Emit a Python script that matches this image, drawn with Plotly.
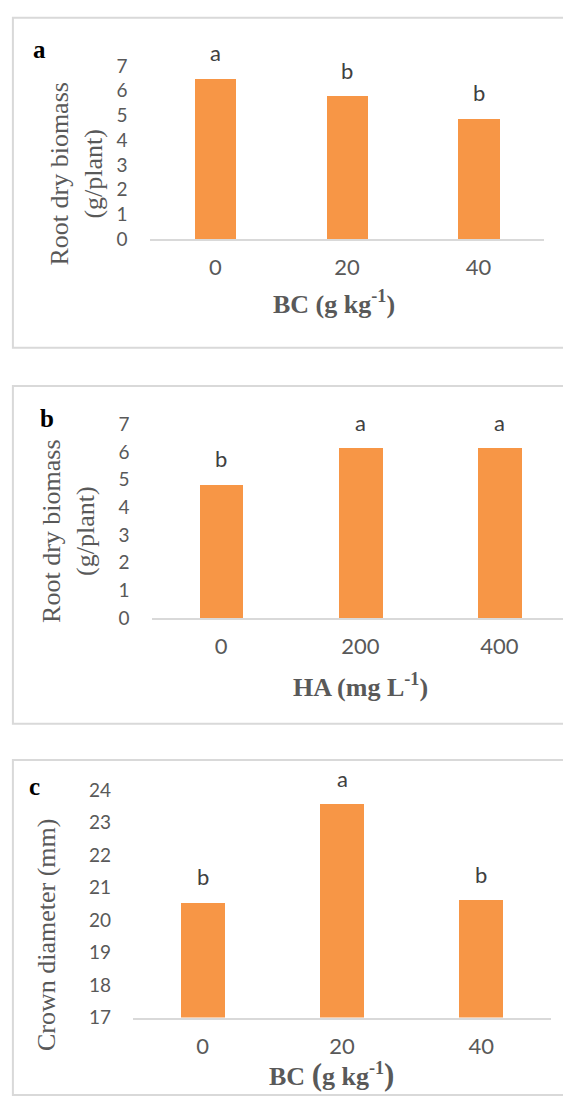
import plotly.graph_objects as go

# ---------------- data ----------------
cats_a = ["0", "20", "40"]
vals_a = [6.48, 5.77, 4.86]
sig_a = ["a", "b", "b"]

cats_b = ["0", "200", "400"]
vals_b = [4.81, 6.12, 6.13]
sig_b = ["b", "a", "a"]

cats_c = ["0", "20", "40"]
vals_c = [20.53, 23.56, 20.60]
sig_c = ["b", "a", "b"]

W, H = 563, 1101
def fx(x):
    return x / W
def fy(y):
    return 1 - y / H

BAR = "#F79646"
GRAY = "#595959"
LINE = "#D9D9D9"
SANS = "Lato, 'Open Sans', sans-serif"
SERIF = "'Liberation Serif', 'Times New Roman', serif"

fig = go.Figure()

panels = [
    dict(cats=cats_a, vals=vals_a, sig=sig_a, x0=149.5, x1=544.3, ytop=55, ybot=232,
         yr=[0, 7], dt=1, xa="x", ya="y", width=0.314),
    dict(cats=cats_b, vals=vals_b, sig=sig_b, x0=151.6, x1=569.0, ytop=421, ybot=619,
         yr=[0, 7], dt=1, xa="x2", ya="y2", width=0.315),
    dict(cats=cats_c, vals=vals_c, sig=sig_c, x0=133.0, x1=551.0, ytop=795, ybot=1027,
         yr=[17, 24], dt=1, xa="x3", ya="y3", width=0.317),
]

for i, p in enumerate(panels):
    fig.add_trace(go.Bar(x=p["cats"], y=p["vals"], marker=dict(color=BAR, line=dict(width=0)),
                         width=p["width"], xaxis=p["xa"], yaxis=p["ya"], showlegend=False,
                         hoverinfo="skip"))
    ncat = len(p["cats"])
    step = (p["x1"] - p["x0"]) / ncat
    right = min(p["x1"], W)
    rng_hi = -0.5 + (right - p["x0"]) / step
    suffix = "" if i == 0 else str(i + 1)
    fig.update_layout(**{
        "xaxis" + suffix: dict(domain=[fx(p["x0"]), fx(right)], type="category",
                               range=[-0.5, rng_hi], anchor=p["ya"], showline=True,
                               linecolor=LINE, linewidth=1.6, ticks="", showgrid=False,
                               zeroline=False, tickfont=dict(family=SANS, size=22, color=GRAY),
                               ticklabelstandoff=8, fixedrange=True),
        "yaxis" + suffix: dict(domain=[fy(p["ybot"]), fy(p["ytop"])], range=p["yr"],
                               dtick=p["dt"], anchor=p["xa"], showline=False, showgrid=False,
                               zeroline=False, ticks="",
                               tickfont=dict(family=SANS, size=19, color=GRAY),
                               ticklabelstandoff=21, fixedrange=True),
    })
    for k, (v, s) in enumerate(zip(p["vals"], p["sig"])):
        fig.add_annotation(x=k, y=v, xref=p["xa"], yref=p["ya"], text=s, showarrow=False,
                           yanchor="middle", xanchor="center", yshift=26,
                           font=dict(family=SANS, size=22, color="#404040"))

# panel borders
for (x0, y0, x1, y1) in [(12.9, 6, W + 5, 343), (12.9, 382, W + 5, 727), (12.9, 764, W + 5, H + 5)]:
    fig.add_shape(type="rect", xref="paper", yref="paper", x0=fx(x0), x1=fx(x1),
                  y0=fy(y1), y1=fy(y0), line=dict(color=LINE, width=2), layer="below")

# axis titles
ytitles = [
    ("Root dry biomass<br>(g/plant)", 77, 165),
    ("Root dry biomass<br>(g/plant)", 69, 531),
    ("Crown diameter (mm)", 46.7, 942),
]
for t, x, y in ytitles:
    fig.add_annotation(text=t, x=fx(x), y=fy(y), xref="paper", yref="paper", showarrow=False,
                       textangle=-90, xanchor="center", yanchor="middle",
                       font=dict(family=SERIF, size=26, color=GRAY))

xtitles = [
    ("<b>BC (g kg<sup>-1</sup>)</b>", 334, 297),
    ("<b>HA (mg L<sup>-1</sup>)</b>", 360, 688),
    ("<b>BC <span style='font-size:31px'>(</span>g kg<sup>-1</sup><span style='font-size:31px'>)</span></b>", 331, 1085),
]
for t, x, y in xtitles:
    fig.add_annotation(text=t, x=fx(x), y=fy(y), xref="paper", yref="paper", showarrow=False,
                       xanchor="center", yanchor="middle",
                       font=dict(family=SERIF, size=26, color=GRAY))

# panel letters
for t, x, y in [("a", 39, 38), ("b", 46.7, 415), ("c", 34, 791)]:
    fig.add_annotation(text="<b>" + t + "</b>", x=fx(x), y=fy(y), xref="paper", yref="paper",
                       showarrow=False, xanchor="center", yanchor="middle",
                       font=dict(family=SERIF, size=25, color="#000000"))

fig.update_layout(width=W, height=H, margin=dict(l=0, r=0, t=0, b=0),
                  paper_bgcolor="white", plot_bgcolor="rgba(0,0,0,0)", bargap=0)

fig.write_html("out.html", config={"displayModeBar": False})
